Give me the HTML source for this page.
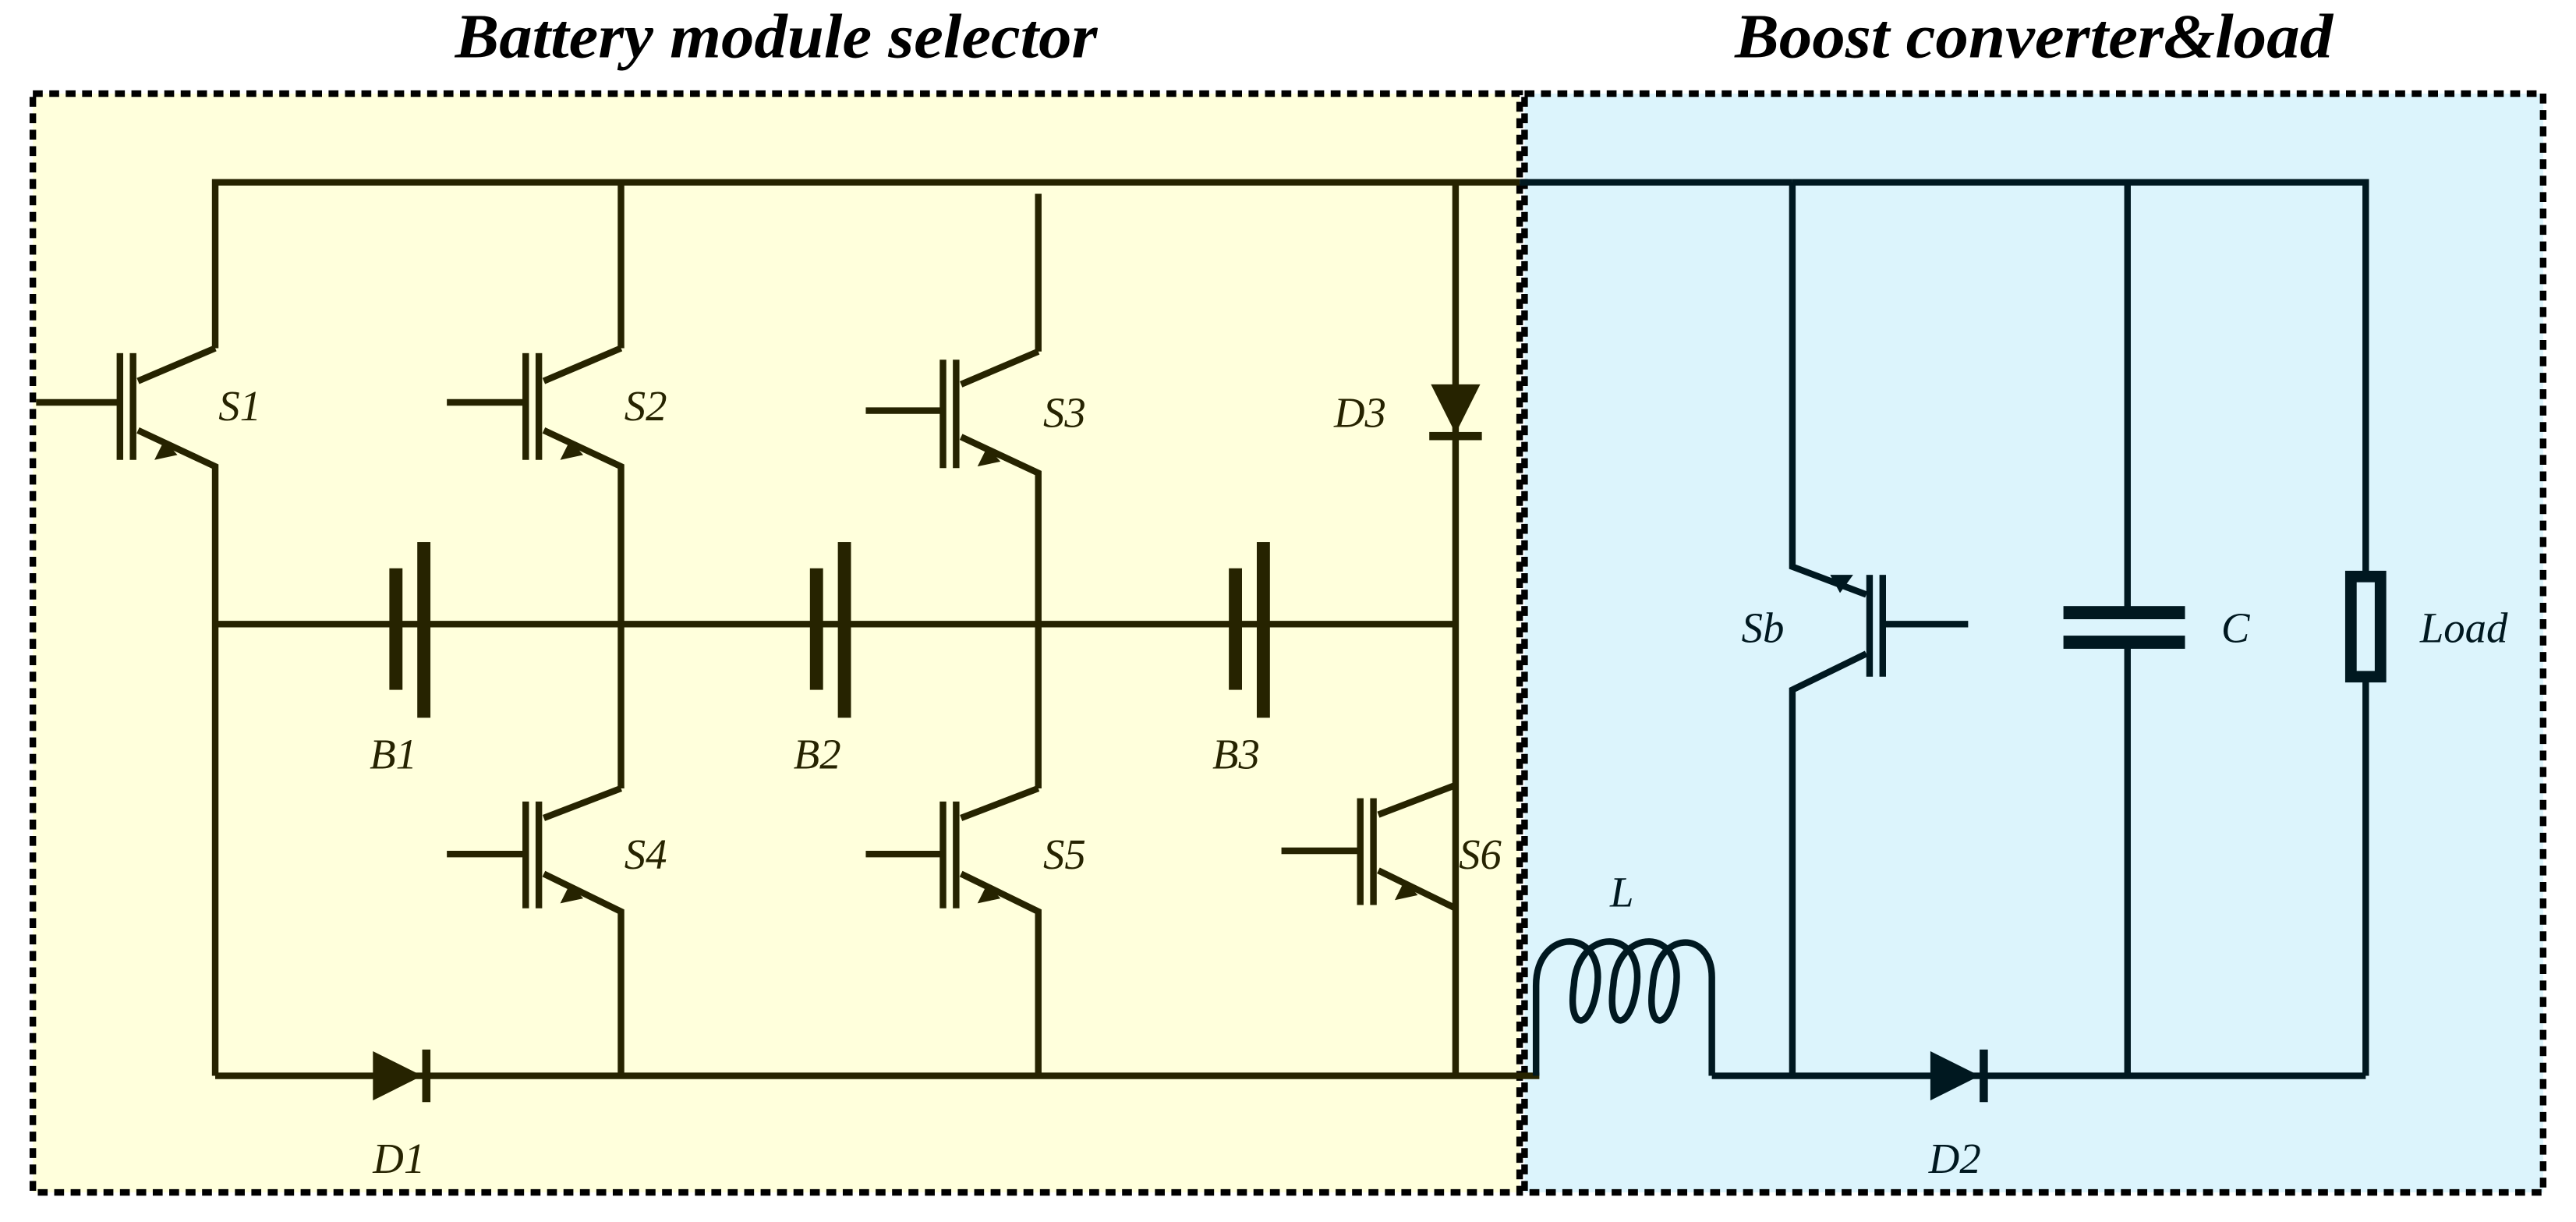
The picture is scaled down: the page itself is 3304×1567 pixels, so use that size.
<!DOCTYPE html>
<html><head><meta charset="utf-8"><style>
html,body{margin:0;padding:0;background:#fff;}
svg{display:block;}
text{font-family:"Liberation Serif",serif;font-style:italic;}
</style></head><body>
<svg width="3304" height="1567" viewBox="0 0 1568 744" preserveAspectRatio="none" xmlns="http://www.w3.org/2000/svg">
<rect x="0" y="0" width="1568" height="744" fill="#fff"/>
<!-- frames -->
<rect x="20" y="57" width="905" height="669" fill="#ffffdc" stroke="#000" stroke-width="4" stroke-dasharray="6 4"/>
<rect x="928" y="57" width="620" height="669" fill="#dcf4fc" stroke="#000" stroke-width="4" stroke-dasharray="6 4"/>
<text x="277" y="35" font-size="38" font-weight="bold" textLength="391" lengthAdjust="spacingAndGlyphs">Battery module selector</text>
<text x="1056" y="35" font-size="38" font-weight="bold" textLength="364" lengthAdjust="spacingAndGlyphs">Boost converter&amp;load</text>

<g stroke="#262300" stroke-width="4" fill="none" stroke-linejoin="miter">
<polyline points="131,212 131,111 925,111"/>
<line x1="378" y1="111" x2="378" y2="212"/>
<line x1="632" y1="118" x2="632" y2="214"/>
<line x1="886" y1="111" x2="886" y2="655"/>
<polyline points="131,212 84,232"/>
<polyline points="84,262 131,284 131,655"/>
<line x1="22" y1="245" x2="73" y2="245"/>
<polyline points="378,212 331,232"/>
<polyline points="331,262 378,284 378,480"/>
<line x1="272" y1="245" x2="320" y2="245"/>
<polyline points="632,214 585,234"/>
<polyline points="585,266 632,288 632,480"/>
<line x1="527" y1="250" x2="575" y2="250"/>
<line x1="131" y1="380" x2="886" y2="380"/>
<polyline points="378,480 331,498"/>
<polyline points="331,532 378,555 378,655"/>
<line x1="272" y1="520" x2="320" y2="520"/>
<polyline points="632,480 585,498"/>
<polyline points="585,532 632,555 632,655"/>
<line x1="527" y1="520" x2="575" y2="520"/>
<polyline points="886,478 839,496"/>
<polyline points="839,530 886,553"/>
<line x1="780" y1="518" x2="828" y2="518"/>
<line x1="131" y1="655" x2="937" y2="655"/>
</g>
<g fill="#262300">
<rect x="71" y="215" width="4" height="65"/><rect x="79" y="215" width="4" height="65"/>
<rect x="318" y="215" width="4" height="65"/><rect x="326" y="215" width="4" height="65"/>
<rect x="572" y="219" width="4" height="66"/><rect x="580" y="219" width="4" height="66"/>
<rect x="318" y="488" width="4" height="65"/><rect x="326" y="488" width="4" height="65"/>
<rect x="572" y="488" width="4" height="65"/><rect x="580" y="488" width="4" height="65"/>
<rect x="826" y="486" width="4" height="65"/><rect x="834" y="486" width="4" height="65"/>
<polygon points="94,280 108,277 100,268"/>
<polygon points="341,280 355,277 347,268"/>
<polygon points="595,284 609,281 601,272"/>
<polygon points="341,550 355,547 347,538"/>
<polygon points="595,550 609,547 601,538"/>
<polygon points="849,548 863,545 855,536"/>
<rect x="237" y="346" width="8" height="74"/><rect x="254" y="330" width="8" height="107"/>
<rect x="493" y="346" width="8" height="74"/><rect x="510" y="330" width="8" height="107"/>
<rect x="748" y="346" width="8" height="74"/><rect x="765" y="330" width="8" height="107"/>
<polygon points="871,234 901,234 886,264"/>
<rect x="870" y="263" width="32" height="5"/>
<polygon points="227,640 227,670 257,655"/>
<rect x="257" y="639" width="5" height="32"/>
</g>

<g stroke="#001820" stroke-width="4" fill="none">
<polyline points="1091,111 1440,111 1440,348"/>
<line x1="925" y1="111" x2="1091" y2="111"/>
<polyline points="1091,111 1091,345 1136,362"/>
<polyline points="1136,398 1091,420 1091,655"/>
<line x1="1148" y1="380" x2="1198" y2="380"/>
<line x1="1295" y1="111" x2="1295" y2="372"/>
<line x1="1295" y1="392" x2="1295" y2="655"/>
<line x1="1440" y1="415" x2="1440" y2="655"/>
<rect x="1431" y="351" width="18" height="61" stroke-width="7"/>
<path d="M935,655 V600 C935,564 978,564 972,602 C968,628 954,628 958,600 C960,564 1002,564 996,602 C992,628 978,628 982,600 C984,564 1026,564 1020,602 C1016,628 1002,628 1006,600 C1008,566 1042,566 1042,595 V655"/>
<line x1="1042" y1="655" x2="1440" y2="655"/>
</g>
<g fill="#001820">
<rect x="1136" y="350" width="4" height="62"/><rect x="1144" y="350" width="4" height="62"/>
<polygon points="1114,350 1128,350 1120,361"/>
<rect x="1256" y="369" width="74" height="8"/>
<rect x="1256" y="387" width="74" height="8"/>
<polygon points="1175,640 1175,670 1205,655"/>
<rect x="1205" y="639" width="5" height="32"/>
</g>

<g font-size="26" fill="#262300">
<text x="133" y="256">S1</text>
<text x="380" y="256">S2</text>
<text x="635" y="260">S3</text>
<text x="812" y="260">D3</text>
<text x="225" y="468">B1</text>
<text x="483" y="468">B2</text>
<text x="738" y="468">B3</text>
<text x="380" y="529">S4</text>
<text x="635" y="529">S5</text>
<text x="888" y="529">S6</text>
<text x="227" y="714">D1</text>
</g>
<g font-size="26" fill="#001820">
<text x="1060" y="391">Sb</text>
<text x="1352" y="391">C</text>
<text x="1473" y="391">Load</text>
<text x="980" y="552">L</text>
<text x="1174" y="714">D2</text>
</g>
</svg>
</body></html>
